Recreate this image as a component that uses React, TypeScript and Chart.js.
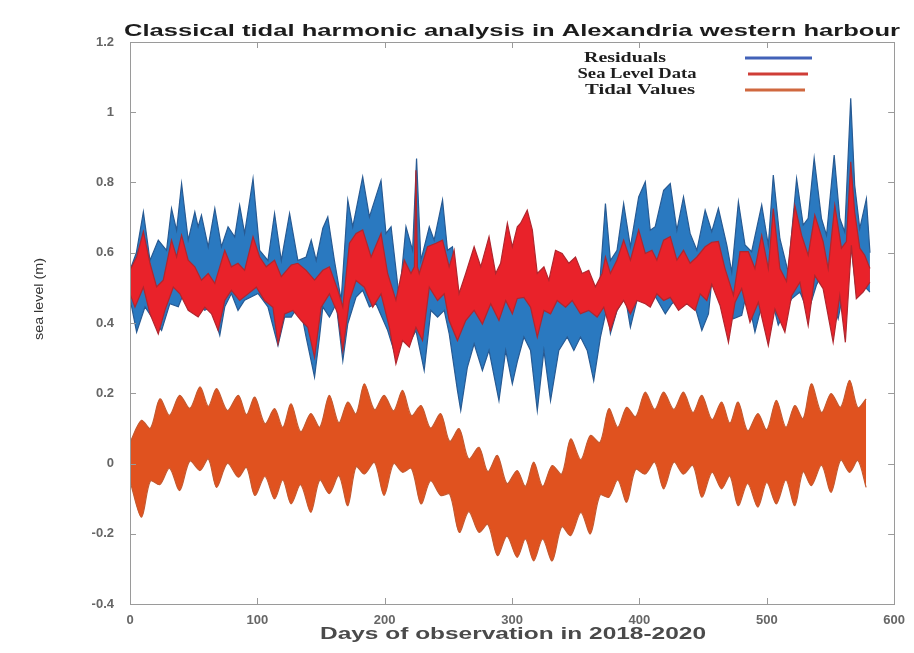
import React, { useEffect, useRef } from "react";
import { Chart, registerables } from "chart.js";

Chart.register(...registerables);

// ---------- DATA ----------
const TITLE = "Classical tidal harmonic analysis in Alexandria western harbour";
const X_TITLE = "Days of observation in 2018-2020";
const Y_TITLE = "sea level (m)";
const SERIES_NAMES = ["Residuals", "Sea Level Data", "Tidal Values"];
const X_TICKS = [0, 100, 200, 300, 400, 500, 600];
const Y_TICKS = [-0.4, -0.2, 0, 0.2, 0.4, 0.6, 0.8, 1, 1.2];

// Residuals (blue) band: upper and lower envelope turning points [day, metres]
const RESIDUALS_UPPER: [number, number][] = [
  [0, 0.55], [5, 0.6], [10.5, 0.716], [15.7, 0.578], [22.2, 0.636], [28.7, 0.607], [32.6, 0.726],
  [36.6, 0.664], [40.5, 0.797], [45.7, 0.636], [50.9, 0.716], [53.5, 0.674], [56.1, 0.707],
  [61.4, 0.617], [66.6, 0.726], [71.8, 0.617], [77, 0.674], [82.2, 0.645], [86.1, 0.735],
  [90, 0.655], [96.6, 0.811], [101.8, 0.607], [108.3, 0.578], [113.5, 0.712], [118.8, 0.578],
  [125.3, 0.712], [131.8, 0.578], [138.3, 0.588], [142.3, 0.636], [146.2, 0.578], [151.4, 0.67],
  [155.3, 0.702], [160.5, 0.578], [165.8, 0.465], [171, 0.75], [174.9, 0.674], [182.7, 0.816],
  [188, 0.702], [197.1, 0.806], [201, 0.655], [205, 0.674], [211.4, 0.47], [216.7, 0.674],
  [221.9, 0.607], [225, 0.868], [228.4, 0.578], [235, 0.674], [238.8, 0.636], [245.4, 0.75],
  [249.3, 0.607], [253.2, 0.617], [258.4, 0.465], [263.6, 0.446], [271.5, 0.493], [279.3, 0.474],
  [284.5, 0.493], [291, 0.455], [297.6, 0.512], [304.1, 0.484], [309.3, 0.56], [313.2, 0.52],
  [317.2, 0.43], [322.4, 0.42], [327.6, 0.45], [335.4, 0.493], [340.7, 0.474], [348.5, 0.465],
  [356.3, 0.446], [362.8, 0.45], [368.1, 0.474], [373.3, 0.74], [377.2, 0.578], [382.4, 0.607],
  [387.6, 0.74], [392.9, 0.617], [399.4, 0.759], [404.6, 0.802], [408.5, 0.664], [412.4, 0.674],
  [419, 0.778], [424.2, 0.797], [429.4, 0.664], [434.6, 0.759], [439.8, 0.655], [445.1, 0.607],
  [451.6, 0.721], [456.8, 0.66], [462, 0.726], [468.6, 0.622], [472.5, 0.545], [477.7, 0.745],
  [482.9, 0.622], [488.1, 0.603], [496, 0.736], [501.2, 0.622], [505.1, 0.821], [510.3, 0.64],
  [516.8, 0.545], [523.4, 0.811], [528.6, 0.679], [532.5, 0.698], [537.2, 0.869], [542.9, 0.698],
  [546.9, 0.65], [552.9, 0.878], [557.3, 0.698], [561.2, 0.659], [565.9, 1.04], [569, 0.793],
  [573, 0.669], [578.2, 0.754], [581, 0.6],
];
const RESIDUALS_LOWER: [number, number][] = [
  [0, 0.47], [1.3, 0.446], [5.2, 0.374], [11.8, 0.446], [17, 0.417], [24.8, 0.379], [31.3, 0.455],
  [37.9, 0.446], [43.1, 0.493], [48.3, 0.484], [53.5, 0.455], [58.7, 0.436], [64, 0.446],
  [70.5, 0.365], [74.4, 0.446], [79.6, 0.484], [84.8, 0.436], [90, 0.465], [100.5, 0.484],
  [108.3, 0.446], [116.2, 0.336], [121.4, 0.417], [126.6, 0.417], [133.1, 0.455], [138.3, 0.36],
  [144.9, 0.246], [148.8, 0.36], [151.4, 0.446], [156.6, 0.417], [161.9, 0.455], [167.1, 0.293],
  [171, 0.398], [177.5, 0.474], [182.7, 0.493], [188, 0.446], [193.2, 0.455], [202.3, 0.379],
  [208.8, 0.303], [214, 0.36], [219.3, 0.341], [224.5, 0.379], [231, 0.265], [236.2, 0.436],
  [241.5, 0.417], [246.7, 0.436], [250.6, 0.37], [257.1, 0.208], [259.7, 0.151], [264.9, 0.274],
  [270.2, 0.341], [276.7, 0.265], [281.9, 0.322], [289.7, 0.179], [295, 0.322], [300.2, 0.227],
  [304.1, 0.29], [309.3, 0.36], [314.5, 0.322], [319.8, 0.151], [325, 0.322], [330.2, 0.179],
  [336.7, 0.322], [343.3, 0.36], [348.5, 0.322], [353.7, 0.36], [359, 0.322], [364.1, 0.236],
  [369.4, 0.36], [374.6, 0.446], [377.2, 0.37], [382.4, 0.436], [388.9, 0.474], [392.9, 0.388],
  [398.1, 0.465], [404.6, 0.474], [411.1, 0.484], [420.3, 0.426], [425.5, 0.455], [432, 0.474],
  [438.5, 0.455], [443.7, 0.446], [449, 0.379], [454.2, 0.426], [456.8, 0.52], [462, 0.508],
  [467.2, 0.46], [473.8, 0.412], [480.3, 0.422], [484.2, 0.488], [490.7, 0.374], [496, 0.45],
  [502.5, 0.488], [509, 0.394], [514.2, 0.432], [519.5, 0.469], [526, 0.488], [532.5, 0.432],
  [539, 0.508], [544.2, 0.545], [550.8, 0.469], [556, 0.412], [561.2, 0.508], [566.4, 0.612],
  [570.3, 0.488], [575.6, 0.508], [581, 0.488],
];

// Sea level data (red) band
const SEA_LEVEL_UPPER: [number, number][] = [
  [0, 0.55], [5.2, 0.588], [10.5, 0.66], [15.7, 0.57], [20.9, 0.503], [26.1, 0.522], [32.6, 0.636],
  [36.6, 0.588], [40.5, 0.65], [45.7, 0.579], [50.9, 0.56], [56.1, 0.522], [61.4, 0.541],
  [66.6, 0.513], [74.4, 0.607], [79.6, 0.56], [84.8, 0.57], [90, 0.55], [96.6, 0.646],
  [101.8, 0.588], [107, 0.56], [113.5, 0.579], [118.8, 0.532], [126.6, 0.565], [131.8, 0.57],
  [138.3, 0.55], [144.9, 0.522], [151.4, 0.55], [156.6, 0.56], [163.2, 0.493], [167.1, 0.446],
  [172.3, 0.627], [177.5, 0.655], [182.7, 0.665], [189.3, 0.588], [197.1, 0.655], [202.3, 0.541],
  [208.8, 0.465], [215.4, 0.579], [220.6, 0.541], [223.3, 0.56], [224.5, 0.835], [225.7, 0.56],
  [227.1, 0.541], [233.6, 0.617], [240.2, 0.627], [245.4, 0.636], [250.6, 0.56], [254.5, 0.607],
  [258.4, 0.484], [263.6, 0.541], [270.2, 0.617], [275.4, 0.56], [281.9, 0.646], [287.1, 0.541],
  [291, 0.57], [296.3, 0.684], [300.2, 0.617], [304.1, 0.674], [306.7, 0.684], [311.9, 0.721],
  [315.9, 0.665], [319.8, 0.541], [325, 0.56], [328.9, 0.522], [334.1, 0.607], [339.3, 0.598],
  [344.6, 0.57], [349.8, 0.588], [355, 0.541], [360.2, 0.55], [365.4, 0.503], [370.7, 0.541],
  [373.3, 0.588], [377.2, 0.541], [382.4, 0.579], [387.6, 0.636], [392.9, 0.579], [399.4, 0.665],
  [404.6, 0.598], [409.8, 0.607], [413.7, 0.579], [419, 0.636], [424.2, 0.646], [429.4, 0.579],
  [434.6, 0.607], [439.8, 0.57], [445.1, 0.588], [451.6, 0.617], [456.8, 0.63], [462, 0.632],
  [467.2, 0.555], [473.8, 0.479], [479, 0.603], [485.5, 0.603], [490.7, 0.555], [496, 0.65],
  [501.2, 0.555], [505.1, 0.726], [510.3, 0.555], [515.5, 0.518], [522, 0.735], [527.3, 0.65],
  [532.5, 0.593], [537.7, 0.707], [544.2, 0.632], [548.2, 0.555], [553.4, 0.735], [558.6, 0.613],
  [562.5, 0.632], [565.9, 0.859], [569, 0.716], [573, 0.613], [576.9, 0.593], [581, 0.555],
];
const SEA_LEVEL_LOWER: [number, number][] = [
  [0, 0.483], [3.9, 0.445], [10.5, 0.502], [15.7, 0.426], [22.2, 0.369], [27.4, 0.436], [34, 0.502],
  [39.2, 0.483], [45.7, 0.436], [53.5, 0.417], [58.7, 0.445], [64, 0.426], [69.2, 0.379],
  [74.4, 0.464], [79.6, 0.493], [86.1, 0.464], [92.7, 0.483], [99.2, 0.502], [105.7, 0.464],
  [112.2, 0.445], [116.2, 0.341], [121.4, 0.426], [127.9, 0.436], [134.4, 0.407], [139.6, 0.388],
  [144.9, 0.302], [150.1, 0.445], [156.6, 0.483], [163.2, 0.426], [167.1, 0.321], [172.3, 0.464],
  [177.5, 0.521], [184, 0.502], [190.6, 0.445], [197.1, 0.483], [203.6, 0.388], [208.8, 0.284],
  [214, 0.35], [219.3, 0.331], [224.5, 0.388], [229.7, 0.35], [235, 0.502], [241.5, 0.464],
  [246.7, 0.483], [250.6, 0.407], [257.1, 0.35], [263.6, 0.407], [270.2, 0.436], [276.7, 0.397],
  [283.2, 0.455], [289.7, 0.407], [295, 0.464], [300.2, 0.426], [304.1, 0.47], [309.3, 0.473],
  [314.5, 0.445], [319.8, 0.36], [325, 0.436], [330.2, 0.426], [335.4, 0.464], [342, 0.445],
  [347.2, 0.464], [353.7, 0.426], [360.2, 0.436], [366.8, 0.417], [372, 0.445], [377.2, 0.379],
  [382.4, 0.436], [387.6, 0.464], [392.9, 0.426], [398.1, 0.464], [404.6, 0.455], [408.5, 0.445],
  [413.7, 0.483], [419, 0.464], [424.2, 0.473], [430.7, 0.436], [437.2, 0.455], [443.7, 0.436],
  [447.7, 0.483], [452.9, 0.464], [456.8, 0.51], [463.3, 0.45], [469.9, 0.345], [475.1, 0.459],
  [480.3, 0.498], [486.8, 0.402], [493.4, 0.459], [501.2, 0.336], [506.4, 0.44], [514.2, 0.374],
  [519.5, 0.478], [526, 0.516], [532.5, 0.393], [537.7, 0.535], [544.2, 0.498], [552.1, 0.345],
  [557.3, 0.478], [561.7, 0.345], [566.4, 0.621], [570.3, 0.469], [575.6, 0.488], [581, 0.516],
];

// Tidal values (orange) band: spring / neap envelope
const TIDAL_DAYS = [
  0, 9, 16, 23.5, 31, 39, 47, 55, 61.5, 68, 76.5, 85, 91.5, 98, 106, 113.5, 120, 126.5, 134, 142,
  149, 156.5, 164, 171, 177.5, 184, 192, 199.5, 207, 214, 221, 228.5, 236, 244, 251, 258.5, 266,
  274, 281, 288.5, 296, 304, 310.5, 317, 324, 331.5, 339, 346, 354, 361.5, 369, 376, 383, 390, 397,
  404.5, 412, 419, 427, 434.5, 442, 449, 457, 464.5, 471, 477.5, 485, 493, 500, 507.5, 515, 522,
  528.5, 535, 543, 550.5, 558, 565, 571.5, 578,
];
const TIDAL_UPPER = [
  0.06, 0.123, 0.1, 0.184, 0.137, 0.194, 0.157, 0.218, 0.163, 0.213, 0.151, 0.194, 0.139, 0.189,
  0.113, 0.156, 0.103, 0.17, 0.09, 0.142, 0.103, 0.194, 0.116, 0.175, 0.141, 0.227, 0.153, 0.194,
  0.15, 0.208, 0.136, 0.165, 0.101, 0.142, 0.063, 0.099, 0.013, 0.046, -0.023, 0.023, -0.057,
  -0.02, -0.065, 0.004, -0.065, -0.006, -0.03, 0.07, 0.011, 0.08, 0.06, 0.156, 0.103, 0.16, 0.133,
  0.203, 0.154, 0.203, 0.154, 0.203, 0.145, 0.194, 0.125, 0.175, 0.115, 0.175, 0.093, 0.142, 0.096,
  0.18, 0.103, 0.165, 0.127, 0.227, 0.145, 0.199, 0.16, 0.237, 0.159, 0.184,
];
const TIDAL_LOWER = [
  -0.05, -0.153, -0.05, -0.06, -0.013, -0.077, 0.007, -0.02, 0.013, -0.068, 0.001, -0.039, -0.011,
  -0.091, -0.037, -0.101, -0.047, -0.115, -0.06, -0.139, -0.047, -0.086, -0.034, -0.12, -0.009,
  -0.03, 0.003, -0.091, 0, -0.025, -0.014, -0.115, -0.049, -0.091, -0.087, -0.196, -0.137,
  -0.196, -0.173, -0.262, -0.207, -0.267, -0.215, -0.277, -0.215, -0.277, -0.18, -0.205, -0.139,
  -0.2, -0.09, -0.096, -0.047, -0.11, -0.017, -0.03, 0.004, -0.072, 0.004, -0.03, -0.005, -0.096,
  -0.025, -0.072, -0.035, -0.12, -0.057, -0.124, -0.054, -0.115, -0.047, -0.12, -0.023, -0.063,
  -0.005, -0.082, 0.01, -0.025, 0.009, -0.068,
];

// ---------- STYLE ----------
const BLUE_FILL = "#2a79c0";
const BLUE_EDGE = "#275a93";
const RED_FILL = "#e9222a";
const RED_EDGE = "#b0262e";
const ORANGE_FILL = "#e0521f";
const ORANGE_EDGE = "#c45a30";
const LEGEND_COLORS = ["#4262b8", "#cf3d37", "#d0683f"];

const pairs = (arr: [number, number][]) => arr.map(([x, y]) => ({ x, y }));
const zipPts = (xs: number[], ys: number[]) => xs.map((x, i) => ({ x, y: ys[i] }));

function drawStretched(
  ctx: CanvasRenderingContext2D,
  text: string,
  font: string,
  color: string,
  cx: number,
  cy: number,
  targetLen: number,
  rotation: number
) {
  ctx.save();
  ctx.font = font;
  ctx.fillStyle = color;
  ctx.textAlign = "center";
  ctx.textBaseline = "middle";
  const w = ctx.measureText(text).width || 1;
  ctx.translate(cx, cy);
  if (rotation) ctx.rotate(rotation);
  ctx.scale(targetLen / w, 1);
  ctx.fillText(text, 0, 0);
  ctx.restore();
}

const decorPlugin = {
  id: "decor",
  afterDraw(chart: any) {
    const { ctx, chartArea: a, scales } = chart;
    ctx.save();
    ctx.strokeStyle = "#9a9a9a";
    ctx.lineWidth = 1;
    ctx.strokeRect(Math.round(a.left) + 0.5, Math.round(a.top) + 0.5, Math.round(a.right - a.left), Math.round(a.bottom - a.top));
    ctx.beginPath();
    scales.y.ticks.forEach((t: any) => {
      const y = Math.round(scales.y.getPixelForValue(t.value)) + 0.5;
      ctx.moveTo(a.left, y);
      ctx.lineTo(a.left + 6, y);
      ctx.moveTo(a.right - 6, y);
      ctx.lineTo(a.right, y);
    });
    scales.x.ticks.forEach((t: any) => {
      const x = Math.round(scales.x.getPixelForValue(t.value)) + 0.5;
      ctx.moveTo(x, a.bottom);
      ctx.lineTo(x, a.bottom - 6);
      ctx.moveTo(x, a.top);
      ctx.lineTo(x, a.top + 6);
    });
    ctx.stroke();
    ctx.restore();

    // title and axis titles
    drawStretched(ctx, TITLE, 'bold 17px "Liberation Sans", Arial, sans-serif', "#1c1c1c", 512, 31, 776, 0);
    drawStretched(ctx, X_TITLE, 'bold 16px "Liberation Sans", Arial, sans-serif', "#4a4a4a", 513, 635, 386, 0);
    drawStretched(ctx, Y_TITLE, '12px "Liberation Sans", Arial, sans-serif', "#333", 40, 299, 82, -Math.PI / 2);

    // legend
    const legendY = [58, 74, 90];
    const textCx = [625, 637, 640];
    const textW = [82, 119, 110];
    const lineX = [
      [745, 812],
      [748, 808],
      [745, 805],
    ];
    SERIES_NAMES.forEach((name, i) => {
      drawStretched(ctx, name, 'bold 15px "Liberation Serif", "Times New Roman", serif', "#1e1e1e", textCx[i], legendY[i], textW[i], 0);
      ctx.save();
      ctx.strokeStyle = LEGEND_COLORS[i];
      ctx.lineWidth = 3;
      ctx.beginPath();
      ctx.moveTo(lineX[i][0], legendY[i]);
      ctx.lineTo(lineX[i][1], legendY[i]);
      ctx.stroke();
      ctx.restore();
    });
  },
};

export default function App() {
  const canvasRef = useRef<HTMLCanvasElement | null>(null);

  useEffect(() => {
    if (!canvasRef.current) return;
    const common = { pointRadius: 0, borderWidth: 1.2, tension: 0, spanGaps: true };
    const chart = new Chart(canvasRef.current, {
      type: "line",
      data: {
        datasets: [
          { ...common, label: SERIES_NAMES[0], data: pairs(RESIDUALS_UPPER), borderColor: BLUE_EDGE, backgroundColor: BLUE_FILL, fill: false, order: 2 },
          { ...common, label: SERIES_NAMES[0] + " (low)", data: pairs(RESIDUALS_LOWER), borderColor: BLUE_EDGE, backgroundColor: BLUE_FILL, fill: "-1", order: 2 },
          { ...common, label: SERIES_NAMES[1], data: pairs(SEA_LEVEL_UPPER), borderColor: RED_EDGE, backgroundColor: RED_FILL, fill: false, order: 1 },
          { ...common, label: SERIES_NAMES[1] + " (low)", data: pairs(SEA_LEVEL_LOWER), borderColor: RED_EDGE, backgroundColor: RED_FILL, fill: "-1", order: 1 },
          { ...common, tension: 0.3, label: SERIES_NAMES[2], data: zipPts(TIDAL_DAYS, TIDAL_UPPER), borderColor: ORANGE_EDGE, backgroundColor: ORANGE_FILL, fill: false, order: 3 },
          { ...common, tension: 0.3, label: SERIES_NAMES[2] + " (low)", data: zipPts(TIDAL_DAYS, TIDAL_LOWER), borderColor: ORANGE_EDGE, backgroundColor: ORANGE_FILL, fill: "-1", order: 3 },
        ] as any,
      },
      options: {
        animation: false,
        responsive: true,
        maintainAspectRatio: false,
        events: [],
        layout: { padding: { top: 42, right: 17, bottom: 0, left: 0 } },
        plugins: {
          legend: { display: false },
          tooltip: { enabled: false },
          title: { display: false },
        },
        scales: {
          x: {
            type: "linear",
            min: X_TICKS[0],
            max: X_TICKS[X_TICKS.length - 1],
            afterBuildTicks: (s: any) => {
              s.ticks = X_TICKS.map((v) => ({ value: v }));
            },
            afterFit: (s: any) => {
              s.height = 49;
            },
            grid: { display: false, drawTicks: false },
            border: { display: false },
            ticks: {
              padding: 9,
              color: "#666",
              font: { family: '"Liberation Sans", Arial, sans-serif', size: 13, weight: "bold" },
              callback: (v: any) => String(v),
            },
          },
          y: {
            type: "linear",
            min: Y_TICKS[0],
            max: Y_TICKS[Y_TICKS.length - 1],
            afterBuildTicks: (s: any) => {
              s.ticks = Y_TICKS.map((v) => ({ value: v }));
            },
            afterFit: (s: any) => {
              s.width = 130;
            },
            grid: { display: false, drawTicks: false },
            border: { display: false },
            ticks: {
              padding: 16,
              color: "#666",
              font: { family: '"Liberation Sans", Arial, sans-serif', size: 13, weight: "bold" },
              callback: (v: any) => String(Math.round(Number(v) * 10) / 10),
            },
          },
        },
      },
      plugins: [decorPlugin],
    });
    return () => chart.destroy();
  }, []);

  return (
    <div style={{ position: "fixed", left: 0, top: 0, width: 914, height: 653, background: "#fff" }}>
      <canvas ref={canvasRef} />
    </div>
  );
}
